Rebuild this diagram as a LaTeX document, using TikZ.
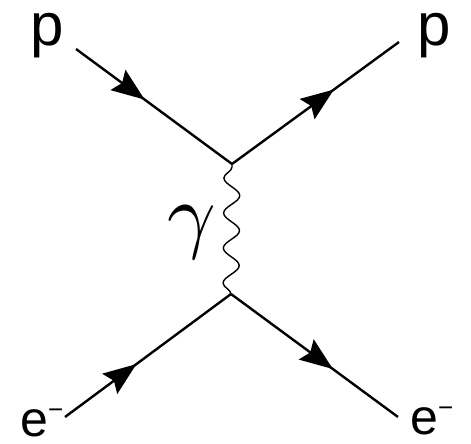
\documentclass[tikz,border=0pt]{standalone}
\usepackage{fontspec}
\usepackage{graphicx}
\setmainfont{Liberation Sans}
\usetikzlibrary{decorations.pathmorphing,decorations.markings,arrows.meta}

\begin{document}
\begin{tikzpicture}[x=1pt,y=1pt,
  fermion/.style={line width=2.4pt, postaction={decorate},
    decoration={markings, mark=at position #1 with {\arrow{Stealth[length=33pt,width=25pt,inset=5pt]}}}},
  photon/.style={line width=1.4pt, decorate,
    decoration={snake, amplitude=8pt, segment length=35pt}},
  plabel/.style={inner sep=0pt, font=\fontsize{60}{60}\selectfont},
  elabel/.style={inner sep=0pt, font=\fontsize{50}{50}\selectfont},
]
\useasboundingbox (0,0) rectangle (471,444);

\coordinate (pa) at (76,395);
\coordinate (v1) at (232,280);
\coordinate (pb) at (399,402);
\coordinate (ea) at (65,27);
\coordinate (v2) at (231,150);
\coordinate (eb) at (398,27);

\draw[fermion=0.44] (pa) -- (v1);
\draw[fermion=0.61] (v1) -- (pb);
\draw[fermion=0.43] (ea) -- (v2);
\draw[fermion=0.61] (v2) -- (eb);
\draw[photon] (v2) -- (v1);

\node[plabel, anchor=base] (pin) at (47,398) {p};
\node[plabel, anchor=base] (pout) at (434,398) {p};
\node[elabel, anchor=base west] (ein) at (20,7) {e\raisebox{18pt}{\fontsize{26}{26}\selectfont −}};
\node[elabel, anchor=base west] (eout) at (410,9) {e\raisebox{18pt}{\fontsize{26}{26}\selectfont −}};
\node[inner sep=0pt] (gam) at (192,212) {\scalebox{8.5}{$\gamma$}};
\end{tikzpicture}
\end{document}
